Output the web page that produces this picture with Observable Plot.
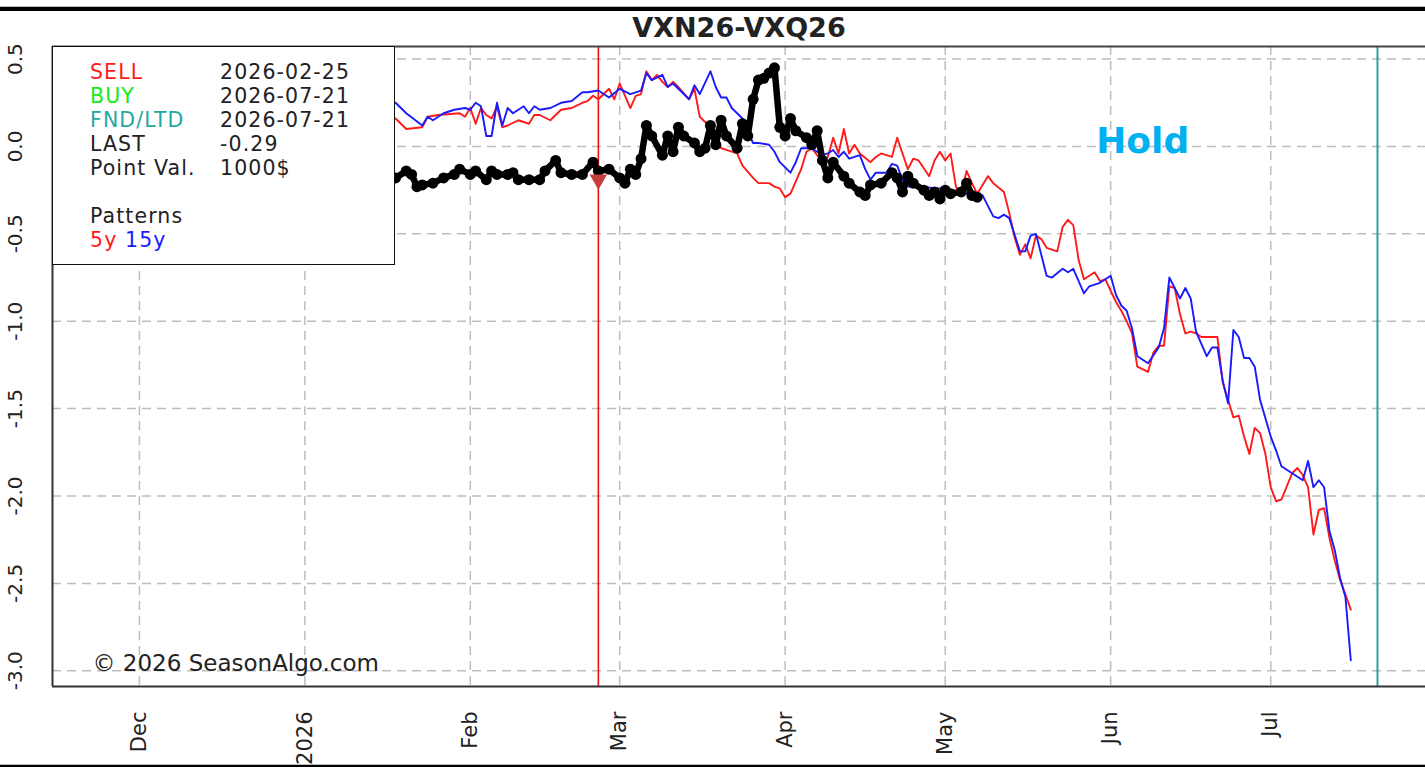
<!DOCTYPE html>
<html><head><meta charset="utf-8">
<script src="https://cdn.jsdelivr.net/npm/d3@7"></script>
<script src="https://cdn.jsdelivr.net/npm/@observablehq/plot@0.6"></script>
<style>
body{margin:0;background:#fff;font-family:"DejaVu Sans",sans-serif;}
#wrap{position:relative;width:1425px;height:769px;overflow:hidden;background:#fff;}
#chart{position:absolute;left:0;top:0;}
.hl{position:absolute;left:0;width:1425px;}
#legend{position:absolute;left:52px;top:46px;width:343px;height:219px;box-sizing:border-box;border:1.5px solid #111;background:#fff;font-size:20.5px;letter-spacing:1.1px;color:#222;}
#legend div{position:absolute;white-space:nowrap;line-height:24px;height:24px;}
</style></head><body>
<div id="wrap"><div id="chart"></div>
<div class="hl" style="top:6px;height:1px;background:#bbb"></div>
<div class="hl" style="top:7px;height:4px;background:#000"></div>
<div class="hl" style="top:764px;height:1px;background:#bbb"></div>
<div class="hl" style="top:765px;height:2px;background:#000"></div>
<div id="legend"></div>
</div>
<script>
const title = "VXN26-VXQ26";
const copyright = "© 2026 SeasonAlgo.com";
const xTickDates = ["2025-12-01","2026-01-01","2026-02-01","2026-03-01","2026-04-01","2026-05-01","2026-06-01","2026-07-01"];
const xTickLabels = ["Dec","2026","Feb","Mar","Apr","May","Jun","Jul"];
const yTicks = [0.5, 0, -0.5, -1, -1.5, -2, -2.5, -3];
const xDomainStr = ["2025-11-14T17:00:00Z", "2026-07-30T00:00:00Z"];
const yDomain = [-3.09, 0.572];
const sellDate = "2026-02-25";
const fndDate = "2026-07-21";
const sellMarker = [["2026-02-25", -0.19]];
const holdNote = [["2026-06-07", 0.03, "Hold"]];

const legendLabels = ["SELL","BUY","FND/LTD","LAST","Point Val."];
const legendValues = ["2026-02-25","2026-07-21","2026-07-21","-0.29","1000$"];
const legendColors = ["#ff1a1a","#11ee11","#22a8a0","#222","#222"];

const pattern5y = [["2026-01-18",0.16],["2026-01-20",0.10],["2026-01-23",0.11],["2026-01-24",0.17],["2026-01-26",0.18],["2026-01-30",0.19],["2026-01-31",0.17],["2026-02-01",0.22],["2026-02-02",0.13],["2026-02-03",0.22],["2026-02-04",0.18],["2026-02-05",0.16],["2026-02-06",0.23],["2026-02-07",0.11],["2026-02-08",0.12],["2026-02-10",0.15],["2026-02-12",0.13],["2026-02-13",0.18],["2026-02-14",0.18],["2026-02-16",0.15],["2026-02-18",0.21],["2026-02-20",0.22],["2026-02-22",0.25],["2026-02-23",0.26],["2026-02-24",0.29],["2026-02-25",0.27],["2026-02-26",0.30],["2026-02-27",0.33],["2026-02-28",0.27],["2026-03-01",0.36],["2026-03-02",0.29],["2026-03-03",0.22],["2026-03-04",0.29],["2026-03-05",0.30],["2026-03-06",0.43],["2026-03-07",0.38],["2026-03-08",0.41],["2026-03-09",0.37],["2026-03-10",0.34],["2026-03-11",0.37],["2026-03-12",0.34],["2026-03-14",0.27],["2026-03-15",0.33],["2026-03-16",0.17],["2026-03-17",0.14],["2026-03-19",0.09],["2026-03-20",-0.01],["2026-03-22",-0.03],["2026-03-23",-0.04],["2026-03-24",-0.11],["2026-03-26",-0.18],["2026-03-27",-0.21],["2026-03-29",-0.21],["2026-03-30",-0.23],["2026-03-31",-0.24],["2026-04-01",-0.29],["2026-04-02",-0.27],["2026-04-04",-0.13],["2026-04-05",-0.03],["2026-04-06",-0.01],["2026-04-07",-0.05],["2026-04-08",-0.08],["2026-04-09",-0.06],["2026-04-10",0.05],["2026-04-11",-0.04],["2026-04-12",0.10],["2026-04-13",-0.04],["2026-04-14",0.01],["2026-04-15",-0.04],["2026-04-17",-0.09],["2026-04-18",-0.06],["2026-04-19",-0.04],["2026-04-21",-0.06],["2026-04-22",0.05],["2026-04-23",-0.04],["2026-04-24",-0.13],["2026-04-25",-0.07],["2026-04-26",-0.08],["2026-04-28",-0.17],["2026-04-29",-0.08],["2026-04-30",-0.03],["2026-05-01",-0.08],["2026-05-02",-0.04],["2026-05-03",-0.23],["2026-05-04",-0.27],["2026-05-05",-0.14],["2026-05-06",-0.21],["2026-05-07",-0.27],["2026-05-09",-0.17],["2026-05-10",-0.21],["2026-05-12",-0.26],["2026-05-13",-0.38],["2026-05-14",-0.52],["2026-05-15",-0.62],["2026-05-16",-0.56],["2026-05-17",-0.64],["2026-05-18",-0.51],["2026-05-19",-0.53],["2026-05-20",-0.58],["2026-05-22",-0.60],["2026-05-23",-0.46],["2026-05-24",-0.42],["2026-05-25",-0.45],["2026-05-26",-0.65],["2026-05-27",-0.76],["2026-05-29",-0.72],["2026-05-30",-0.77],["2026-05-31",-0.76],["2026-06-02",-0.89],["2026-06-03",-0.94],["2026-06-04",-1.00],["2026-06-05",-1.07],["2026-06-06",-1.26],["2026-06-08",-1.29],["2026-06-09",-1.18],["2026-06-10",-1.14],["2026-06-11",-1.14],["2026-06-12",-0.80],["2026-06-13",-0.81],["2026-06-14",-0.96],["2026-06-15",-1.07],["2026-06-16",-1.06],["2026-06-17",-1.07],["2026-06-18",-1.09],["2026-06-20",-1.09],["2026-06-21",-1.09],["2026-06-22",-1.35],["2026-06-23",-1.45],["2026-06-24",-1.55],["2026-06-25",-1.54],["2026-06-26",-1.66],["2026-06-27",-1.76],["2026-06-28",-1.61],["2026-06-29",-1.64],["2026-06-30",-1.76],["2026-07-01",-1.95],["2026-07-02",-2.03],["2026-07-03",-2.02],["2026-07-05",-1.87],["2026-07-06",-1.84],["2026-07-07",-1.88],["2026-07-08",-1.95],["2026-07-09",-2.22],["2026-07-10",-2.08],["2026-07-11",-2.07],["2026-07-12",-2.24],["2026-07-13",-2.37],["2026-07-14",-2.48],["2026-07-16",-2.65]];

const pattern15y = [["2026-01-18",0.25],["2026-01-20",0.19],["2026-01-23",0.12],["2026-01-24",0.17],["2026-01-25",0.15],["2026-01-27",0.19],["2026-01-29",0.21],["2026-01-31",0.22],["2026-02-01",0.21],["2026-02-02",0.25],["2026-02-03",0.23],["2026-02-04",0.06],["2026-02-05",0.06],["2026-02-06",0.25],["2026-02-07",0.12],["2026-02-08",0.22],["2026-02-09",0.19],["2026-02-11",0.23],["2026-02-12",0.19],["2026-02-13",0.23],["2026-02-14",0.21],["2026-02-16",0.22],["2026-02-18",0.25],["2026-02-20",0.26],["2026-02-22",0.31],["2026-02-23",0.31],["2026-02-25",0.32],["2026-02-27",0.28],["2026-03-01",0.33],["2026-03-03",0.30],["2026-03-05",0.32],["2026-03-06",0.42],["2026-03-07",0.38],["2026-03-09",0.41],["2026-03-10",0.34],["2026-03-11",0.36],["2026-03-12",0.33],["2026-03-14",0.27],["2026-03-15",0.35],["2026-03-16",0.30],["2026-03-18",0.43],["2026-03-19",0.34],["2026-03-20",0.28],["2026-03-21",0.28],["2026-03-22",0.22],["2026-03-24",0.16],["2026-03-25",0.08],["2026-03-26",0.02],["2026-03-27",0.02],["2026-03-29",0.01],["2026-03-30",-0.03],["2026-03-31",-0.09],["2026-04-02",-0.15],["2026-04-03",-0.09],["2026-04-04",-0.01],["2026-04-06",-0.01],["2026-04-08",-0.05],["2026-04-09",-0.04],["2026-04-10",-0.02],["2026-04-11",-0.06],["2026-04-12",-0.03],["2026-04-13",-0.07],["2026-04-15",-0.05],["2026-04-16",-0.13],["2026-04-17",-0.19],["2026-04-18",-0.15],["2026-04-20",-0.15],["2026-04-21",-0.10],["2026-04-22",-0.11],["2026-04-23",-0.19],["2026-04-24",-0.23],["2026-04-26",-0.23],["2026-04-27",-0.23],["2026-04-29",-0.24],["2026-05-01",-0.24],["2026-05-03",-0.27],["2026-05-05",-0.27],["2026-05-06",-0.26],["2026-05-08",-0.28],["2026-05-10",-0.40],["2026-05-11",-0.41],["2026-05-12",-0.39],["2026-05-13",-0.41],["2026-05-15",-0.60],["2026-05-16",-0.60],["2026-05-17",-0.51],["2026-05-18",-0.50],["2026-05-20",-0.74],["2026-05-21",-0.75],["2026-05-23",-0.70],["2026-05-24",-0.72],["2026-05-25",-0.70],["2026-05-27",-0.84],["2026-05-28",-0.80],["2026-05-30",-0.78],["2026-06-01",-0.74],["2026-06-02",-0.85],["2026-06-03",-0.91],["2026-06-04",-0.94],["2026-06-05",-1.04],["2026-06-06",-1.20],["2026-06-08",-1.24],["2026-06-10",-1.15],["2026-06-11",-1.04],["2026-06-12",-0.75],["2026-06-13",-0.81],["2026-06-14",-0.87],["2026-06-15",-0.81],["2026-06-16",-0.87],["2026-06-17",-1.06],["2026-06-19",-1.20],["2026-06-20",-1.15],["2026-06-21",-1.15],["2026-06-22",-1.34],["2026-06-23",-1.47],["2026-06-24",-1.05],["2026-06-25",-1.09],["2026-06-26",-1.21],["2026-06-27",-1.21],["2026-06-28",-1.26],["2026-06-29",-1.45],["2026-07-01",-1.66],["2026-07-02",-1.74],["2026-07-03",-1.83],["2026-07-05",-1.87],["2026-07-07",-1.91],["2026-07-08",-1.80],["2026-07-09",-1.95],["2026-07-10",-1.91],["2026-07-11",-1.95],["2026-07-12",-2.20],["2026-07-13",-2.31],["2026-07-14",-2.47],["2026-07-15",-2.58],["2026-07-16",-2.94]];

const actual = [["2026-01-18",-0.18],["2026-01-20",-0.14],["2026-01-21",-0.16],["2026-01-22",-0.23],["2026-01-23",-0.22],["2026-01-25",-0.21],["2026-01-27",-0.18],["2026-01-29",-0.16],["2026-01-30",-0.13],["2026-02-01",-0.16],["2026-02-02",-0.14],["2026-02-04",-0.19],["2026-02-05",-0.14],["2026-02-06",-0.16],["2026-02-08",-0.16],["2026-02-09",-0.15],["2026-02-10",-0.19],["2026-02-12",-0.19],["2026-02-14",-0.19],["2026-02-15",-0.14],["2026-02-17",-0.08],["2026-02-18",-0.15],["2026-02-20",-0.16],["2026-02-22",-0.16],["2026-02-24",-0.09],["2026-02-25",-0.14],["2026-02-27",-0.13],["2026-03-01",-0.18],["2026-03-02",-0.21],["2026-03-03",-0.13],["2026-03-04",-0.16],["2026-03-05",-0.07],["2026-03-06",0.12],["2026-03-07",0.06],["2026-03-09",-0.05],["2026-03-10",0.06],["2026-03-11",-0.03],["2026-03-12",0.11],["2026-03-13",0.06],["2026-03-15",0.02],["2026-03-16",-0.03],["2026-03-17",-0.01],["2026-03-18",0.12],["2026-03-19",0.01],["2026-03-20",0.15],["2026-03-21",0.06],["2026-03-23",-0.01],["2026-03-24",0.13],["2026-03-25",0.06],["2026-03-26",0.27],["2026-03-27",0.38],["2026-03-28",0.39],["2026-03-29",0.42],["2026-03-30",0.45],["2026-03-31",0.11],["2026-04-01",0.06],["2026-04-02",0.16],["2026-04-03",0.09],["2026-04-05",0.05],["2026-04-06",0.01],["2026-04-07",0.09],["2026-04-08",-0.08],["2026-04-09",-0.18],["2026-04-10",-0.09],["2026-04-12",-0.17],["2026-04-13",-0.21],["2026-04-15",-0.26],["2026-04-16",-0.28],["2026-04-17",-0.22],["2026-04-19",-0.21],["2026-04-21",-0.15],["2026-04-22",-0.18],["2026-04-23",-0.26],["2026-04-24",-0.17],["2026-04-25",-0.21],["2026-04-27",-0.25],["2026-04-28",-0.28],["2026-04-29",-0.26],["2026-04-30",-0.30],["2026-05-01",-0.25],["2026-05-02",-0.27],["2026-05-04",-0.26],["2026-05-05",-0.21],["2026-05-06",-0.28],["2026-05-07",-0.29]];

const toRows = (arr) => arr.map(([d, v]) => ({date: new Date(d), value: v}));
const rows5 = toRows(pattern5y), rows15 = toRows(pattern15y), rowsA = toRows(actual);
const xDomain = xDomainStr.map(s => new Date(s));
const xTicks = xTickDates.map(s => new Date(s));
const sellRows = sellMarker.map(([d, v]) => ({date: new Date(d), value: v}));
const holdRows = holdNote.map(([d, v, t]) => ({date: new Date(d), value: v, text: t}));
const grid = {stroke: "#bdbdbd", strokeWidth: 1.5, strokeDasharray: "9,6"};
const ink = "#222";

const chart = Plot.plot({
  width: 1425, height: 769,
  marginTop: 46, marginBottom: 83, marginLeft: 52, marginRight: 0,
  x: {type: "utc", domain: xDomain, axis: null},
  y: {domain: yDomain, axis: null},
  style: {fontFamily: "DejaVu Sans", background: "transparent", overflow: "visible"},
  marks: [
    Plot.ruleX(xTicks, {x: d => d, ...grid}),
    Plot.ruleY(yTicks, {y: d => d, ...grid}),
    Plot.ruleX([new Date(sellDate)], {stroke: "#ee1111", strokeWidth: 1.6}),
    Plot.ruleX([new Date(fndDate)], {stroke: "#2aa39a", strokeWidth: 2}),
    Plot.line(rows5, {x: "date", y: "value", stroke: "#ff1a1a", strokeWidth: 1.9}),
    Plot.line(rows15, {x: "date", y: "value", stroke: "#1a1aff", strokeWidth: 1.9}),
    Plot.line(rowsA, {x: "date", y: "value", stroke: "#000", strokeWidth: 6.5, strokeLinejoin: "round"}),
    Plot.dot(rowsA, {x: "date", y: "value", r: 5.5, fill: "#000"}),
    Plot.dot(sellRows, {x: "date", y: "value", symbol: "triangle", rotate: 180, r: 6.5, fill: "#c43c3c"}),
    Plot.ruleX([xDomain[0]], {stroke: "#333", strokeWidth: 2}),
    Plot.ruleY([yDomain[0]], {stroke: "#333", strokeWidth: 2}),
    Plot.ruleY([yDomain[1]], {stroke: "#444", strokeWidth: 2}),
    Plot.text(xTicks, {x: d => d, text: (d, i) => xTickLabels[i], frameAnchor: "bottom", dy: 25, rotate: -90, textAnchor: "end", lineAnchor: "middle", fontSize: 21, fill: ink}),
    Plot.text(yTicks, {y: d => d, text: d => d.toFixed(1), frameAnchor: "left", dx: -37, rotate: -90, textAnchor: "middle", lineAnchor: "middle", fontSize: 20, fill: ink}),
    Plot.text([title], {frameAnchor: "top", dy: -18, fontSize: 27, fontWeight: "bold", fill: ink, lineAnchor: "middle"}),
    Plot.text(holdRows, {x: "date", y: "value", text: "text", fill: "#00b0f0", fontSize: 36, fontWeight: "bold", lineAnchor: "middle"}),
    Plot.text([copyright], {frameAnchor: "bottom-left", dx: 40, dy: -23, textAnchor: "start", lineAnchor: "middle", fontSize: 23, fill: ink})
  ]
});
document.getElementById("chart").appendChild(chart);

const legend = document.getElementById("legend");
const rowTops = [13, 37, 61, 85, 109];
legendLabels.forEach((lab, i) => {
  const a = document.createElement("div");
  a.textContent = lab; a.style.left = "37px"; a.style.top = rowTops[i] + "px"; a.style.color = legendColors[i];
  legend.appendChild(a);
  const b = document.createElement("div");
  b.textContent = legendValues[i]; b.style.left = "167px"; b.style.top = rowTops[i] + "px";
  legend.appendChild(b);
});
const pat = document.createElement("div");
pat.textContent = "Patterns"; pat.style.left = "37px"; pat.style.top = "157px";
legend.appendChild(pat);
const pl = document.createElement("div");
pl.style.left = "37px"; pl.style.top = "181px";
pl.innerHTML = '<span style="color:#ff1a1a">5y</span> <span style="color:#1a1aff">15y</span>';
legend.appendChild(pl);
</script>
</body></html>
